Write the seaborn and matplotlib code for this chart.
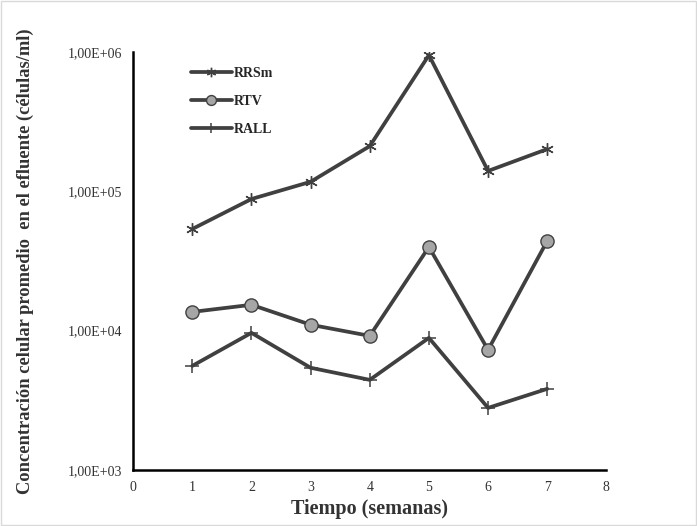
import matplotlib
matplotlib.use('Agg')
import matplotlib.pyplot as plt
import seaborn as sns
from matplotlib.ticker import FixedLocator, NullLocator

sns.set_style('white')
plt.rcParams['font.family'] = ['Liberation Serif', 'DejaVu Serif']

semanas = [1, 2, 3, 4, 5, 6, 7]
rrsm = [53600, 88000, 117000, 211000, 951000, 140000, 201000]
rtv = [13600, 15300, 11000, 9150, 39800, 7260, 44000]
rall = [5570, 9620, 5400, 4420, 8850, 2780, 3810]
series = ['RRSm', 'RTV', 'RALL']
y_ticks = [1e3, 1e4, 1e5, 1e6]
y_labels = ['1,00E+03', '1,00E+04', '1,00E+05', '1,00E+06']

LINE = '#404040'
styles = {
    'RRSm': dict(marker=(6, 2, 0), markersize=9, markeredgecolor=LINE, markeredgewidth=1.0),
    'RTV': dict(marker='o', markersize=9.5, markerfacecolor='#a6a6a6', markeredgecolor=LINE, markeredgewidth=1.0),
    'RALL': dict(marker='+', markersize=10, markeredgecolor=LINE, markeredgewidth=1.1),
}

fig = plt.figure(figsize=(6.97, 5.26), dpi=100)
ax = fig.add_axes([0.191, 0.107, 0.679, 0.794])

for name, vals in zip(series, [rrsm, rtv, rall]):
    sns.lineplot(x=semanas, y=vals, color=LINE, linewidth=2.7, ax=ax, label=name, **styles[name])

ax.set_yscale('log')
ax.set_ylim(1e3, 1e6)
ax.set_xlim(0, 8)
ax.yaxis.set_major_locator(FixedLocator(y_ticks))
ax.yaxis.set_minor_locator(NullLocator())
ax.set_yticklabels(y_labels)
ax.set_xticks(range(9))
ax.tick_params(axis='both', length=0, labelsize=10, pad=8, colors='#333333')
for s in ['top', 'right']:
    ax.spines[s].set_visible(False)
for s in ['left', 'bottom']:
    ax.spines[s].set_color('black')
    ax.spines[s].set_linewidth(1.8)

ax.set_xlabel('Tiempo (semanas)', fontsize=14.5, fontweight='bold', color='#333333', labelpad=4)
ax.set_ylabel('Concentración celular promedio  en el efluente (células/ml)', fontsize=13.3,
              fontweight='bold', color='#333333', labelpad=24)

leg = ax.legend(loc='upper left', bbox_to_anchor=(0.095, 0.995), frameon=False,
                handlelength=3.0, handletextpad=0.1, labelspacing=1.1,
                prop={'weight': 'bold', 'size': 10}, markerscale=0.75)

fig.patches.append(plt.Rectangle((0.002, 0.002), 0.996, 0.996, transform=fig.transFigure,
                                 fill=False, edgecolor='#d9d9d9', linewidth=1))
fig.savefig('out.png', dpi=100)
